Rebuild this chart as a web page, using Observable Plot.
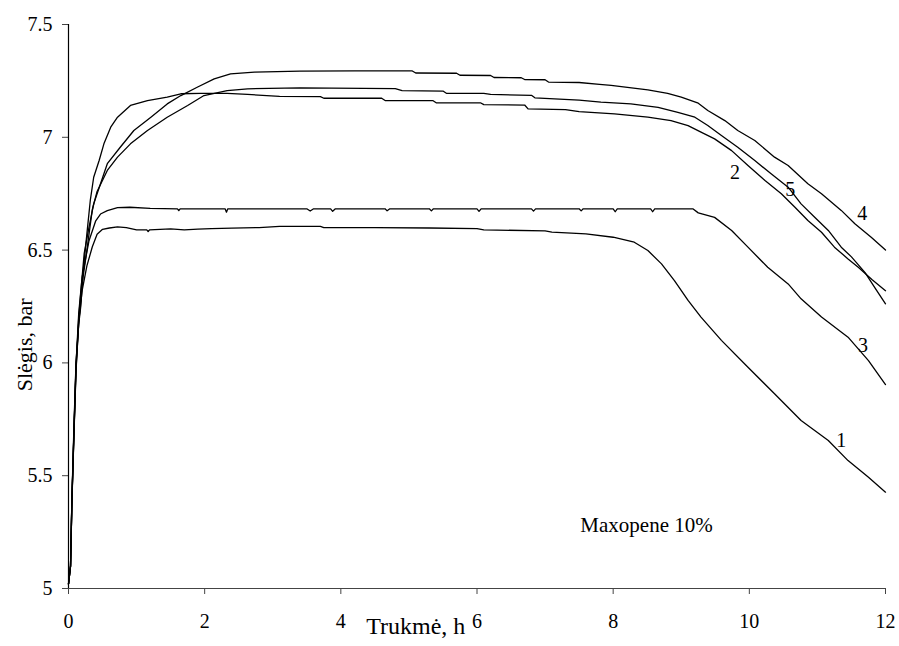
<!DOCTYPE html>
<html>
<head>
<meta charset="utf-8">
<script src="https://cdn.jsdelivr.net/npm/d3@7"></script>
<script src="https://cdn.jsdelivr.net/npm/@observablehq/plot@0.6"></script>
<style>
  html, body { margin: 0; padding: 0; background: #fff; }
  #chart svg { display: block; }
</style>
</head>
<body>
<div id="chart"></div>
<script>
// Trukmė (h), slėgis (bar) pairs
const curve1 = [[0,5.02],[0.03,5.1],[0.05,5.38],[0.08,5.68],[0.11,5.96],[0.15,6.18],[0.2,6.32],[0.27,6.43],[0.35,6.515],[0.42,6.57],[0.5,6.592],[0.6,6.598],[0.72,6.603],[0.85,6.6],[1.0,6.59],[1.15,6.59],[1.17,6.582],[1.19,6.59],[1.5,6.594],[1.7,6.59],[1.9,6.593],[2.1,6.595],[2.4,6.597],[2.8,6.6],[3.1,6.605],[3.7,6.605],[3.75,6.6],[4.5,6.6],[5.3,6.598],[6.0,6.595],[6.1,6.59],[7.0,6.585],[7.1,6.58],[7.6,6.572],[8.0,6.557],[8.31,6.535],[8.51,6.498],[8.71,6.439],[8.9,6.365],[9.1,6.277],[9.29,6.203],[9.59,6.1],[9.98,5.981],[10.37,5.863],[10.76,5.745],[11.16,5.656],[11.45,5.567],[11.75,5.493],[12.0,5.427]];
const curve2 = [[0,5.02],[0.03,5.1],[0.05,5.4],[0.08,5.72],[0.11,6.0],[0.15,6.17],[0.18,6.25],[0.22,6.42],[0.27,6.572],[0.32,6.72],[0.37,6.823],[0.45,6.897],[0.52,6.971],[0.62,7.045],[0.72,7.089],[0.91,7.141],[1.16,7.163],[1.45,7.178],[1.65,7.193],[1.94,7.195],[2.33,7.195],[2.63,7.19],[3.1,7.181],[3.7,7.18],[3.75,7.173],[4.6,7.173],[4.65,7.163],[5.35,7.163],[5.4,7.153],[6.05,7.153],[6.1,7.145],[6.7,7.143],[6.75,7.126],[7.3,7.123],[7.5,7.114],[8.02,7.104],[8.51,7.089],[8.85,7.074],[9.1,7.052],[9.29,7.023],[9.49,6.993],[9.74,6.941],[9.98,6.875],[10.23,6.809],[10.47,6.75],[10.67,6.69],[10.86,6.631],[11.06,6.579],[11.25,6.513],[11.45,6.461],[11.6,6.424],[11.8,6.37],[12.0,6.32]];
const curve3 = [[0,5.02],[0.03,5.1],[0.05,5.39],[0.08,5.7],[0.11,5.99],[0.15,6.22],[0.2,6.38],[0.3,6.54],[0.4,6.63],[0.47,6.66],[0.57,6.675],[0.72,6.688],[0.9,6.69],[1.2,6.685],[1.6,6.683],[1.62,6.675],[1.64,6.683],[2.3,6.683],[2.32,6.668],[2.34,6.683],[3.5,6.683],[3.55,6.673],[3.6,6.683],[3.85,6.683],[3.88,6.672],[3.92,6.683],[4.65,6.683],[4.68,6.674],[4.72,6.683],[5.3,6.683],[5.33,6.674],[5.36,6.683],[6.0,6.683],[6.03,6.672],[6.06,6.683],[6.8,6.683],[6.83,6.673],[6.86,6.683],[7.5,6.683],[7.53,6.674],[7.56,6.683],[8.0,6.683],[8.03,6.67],[8.06,6.683],[8.55,6.683],[8.58,6.67],[8.61,6.683],[9.17,6.683],[9.25,6.665],[9.49,6.645],[9.74,6.587],[9.98,6.513],[10.27,6.424],[10.57,6.35],[10.76,6.284],[11.06,6.203],[11.45,6.114],[11.75,6.01],[12.0,5.904]];
const curve4 = [[0,5.02],[0.03,5.1],[0.05,5.39],[0.08,5.69],[0.11,5.98],[0.15,6.2],[0.2,6.38],[0.23,6.484],[0.3,6.6],[0.37,6.705],[0.47,6.794],[0.57,6.883],[0.76,6.956],[0.96,7.03],[1.21,7.089],[1.45,7.148],[1.65,7.185],[1.89,7.222],[2.14,7.259],[2.38,7.281],[2.73,7.289],[3.4,7.293],[4.2,7.294],[5.05,7.294],[5.1,7.285],[5.7,7.284],[5.75,7.275],[6.2,7.274],[6.25,7.265],[6.65,7.264],[6.7,7.256],[7.0,7.255],[7.05,7.245],[7.5,7.243],[7.8,7.235],[7.97,7.23],[8.51,7.21],[8.8,7.195],[9.0,7.178],[9.25,7.151],[9.39,7.119],[9.64,7.074],[9.83,7.03],[10.08,6.986],[10.37,6.912],[10.57,6.875],[10.86,6.794],[11.06,6.75],[11.35,6.676],[11.55,6.617],[11.79,6.557],[12.0,6.5]];
const curve5 = [[0,5.02],[0.03,5.1],[0.05,5.39],[0.08,5.69],[0.11,5.97],[0.15,6.18],[0.2,6.35],[0.27,6.5],[0.35,6.68],[0.42,6.76],[0.57,6.853],[0.72,6.912],[0.91,6.971],[1.16,7.03],[1.45,7.089],[1.75,7.141],[1.99,7.185],[2.33,7.207],[2.63,7.215],[3.4,7.219],[4.8,7.216],[4.9,7.207],[5.5,7.205],[5.55,7.195],[6.1,7.195],[6.2,7.19],[6.8,7.186],[6.85,7.175],[7.5,7.165],[7.82,7.156],[8.26,7.148],[8.66,7.133],[8.95,7.111],[9.2,7.089],[9.39,7.052],[9.59,7.008],[9.83,6.956],[10.08,6.897],[10.32,6.838],[10.57,6.779],[10.76,6.705],[10.96,6.646],[11.16,6.587],[11.35,6.513],[11.5,6.47],[11.7,6.4],[11.85,6.33],[12.0,6.262]];

const curveNames = ["1", "2", "3", "4", "5"];
const curves = [curve1, curve2, curve3, curve4, curve5];

const labelNames = ["1", "2", "3", "4", "5"];
const labelX = [11.35, 9.79, 11.67, 11.66, 10.6];
const labelY = [5.656, 6.845, 6.077, 6.664, 6.769];

const xTicks = [0, 2, 4, 6, 8, 10, 12];
const yTicks = [5, 5.5, 6, 6.5, 7, 7.5];

const xTitle = "Trukmė, h";
const yTitle = "Slėgis, bar";
const note = "Maxopene 10%";

const rows = curves.flatMap((c, i) => c.map(([t, p]) => ({series: curveNames[i], t, p})));
const labels = labelNames.map((n, i) => ({n, x: labelX[i], y: labelY[i]}));

const font = "Liberation Serif";

const chart = Plot.plot({
  width: 899,
  height: 646,
  marginLeft: 68,
  marginRight: 14,
  marginTop: 24,
  marginBottom: 58,
  style: "font-family: 'Liberation Serif', serif; font-size: 20px; color: #000; background: #fff;",
  x: {domain: [0, 12]},
  y: {domain: [5, 7.5]},
  marks: [
    Plot.axisX({ticks: xTicks, tickSize: 6, tickPadding: 19, tickFormat: d => String(d), label: null, stroke: "#444", fontSize: 20, fontFamily: font}),
    Plot.axisY({ticks: yTicks, tickSize: 6, tickPadding: 10, tickFormat: d => String(d), label: null, stroke: "#444", fontSize: 20, fontFamily: font}),
    Plot.ruleX([0], {stroke: "#000", strokeWidth: 1.2}),
    Plot.ruleY([5], {stroke: "#444", strokeWidth: 1.2}),
    Plot.line(rows, {x: "t", y: "p", z: "series", stroke: "#000", strokeWidth: 1.3, curve: "linear"}),
    Plot.text(labels, {x: "x", y: "y", text: "n", fontSize: 20, fontFamily: font, fill: "#000"}),
    Plot.text([note], {x: 8.49, y: 5.279, text: d => d, fontSize: 21, fontFamily: font, fill: "#000"}),
    Plot.text([xTitle], {x: 5.1, frameAnchor: "bottom", dy: 45, textAnchor: "middle", text: d => d, fontSize: 24, fontFamily: font, fill: "#000"}),
    Plot.text([yTitle], {y: 6.08, frameAnchor: "left", dx: -44, textAnchor: "middle", rotate: -90, text: d => d, fontSize: 22, fontFamily: font, fill: "#000"})
  ]
});

document.getElementById("chart").appendChild(chart);
</script>
</body>
</html>
